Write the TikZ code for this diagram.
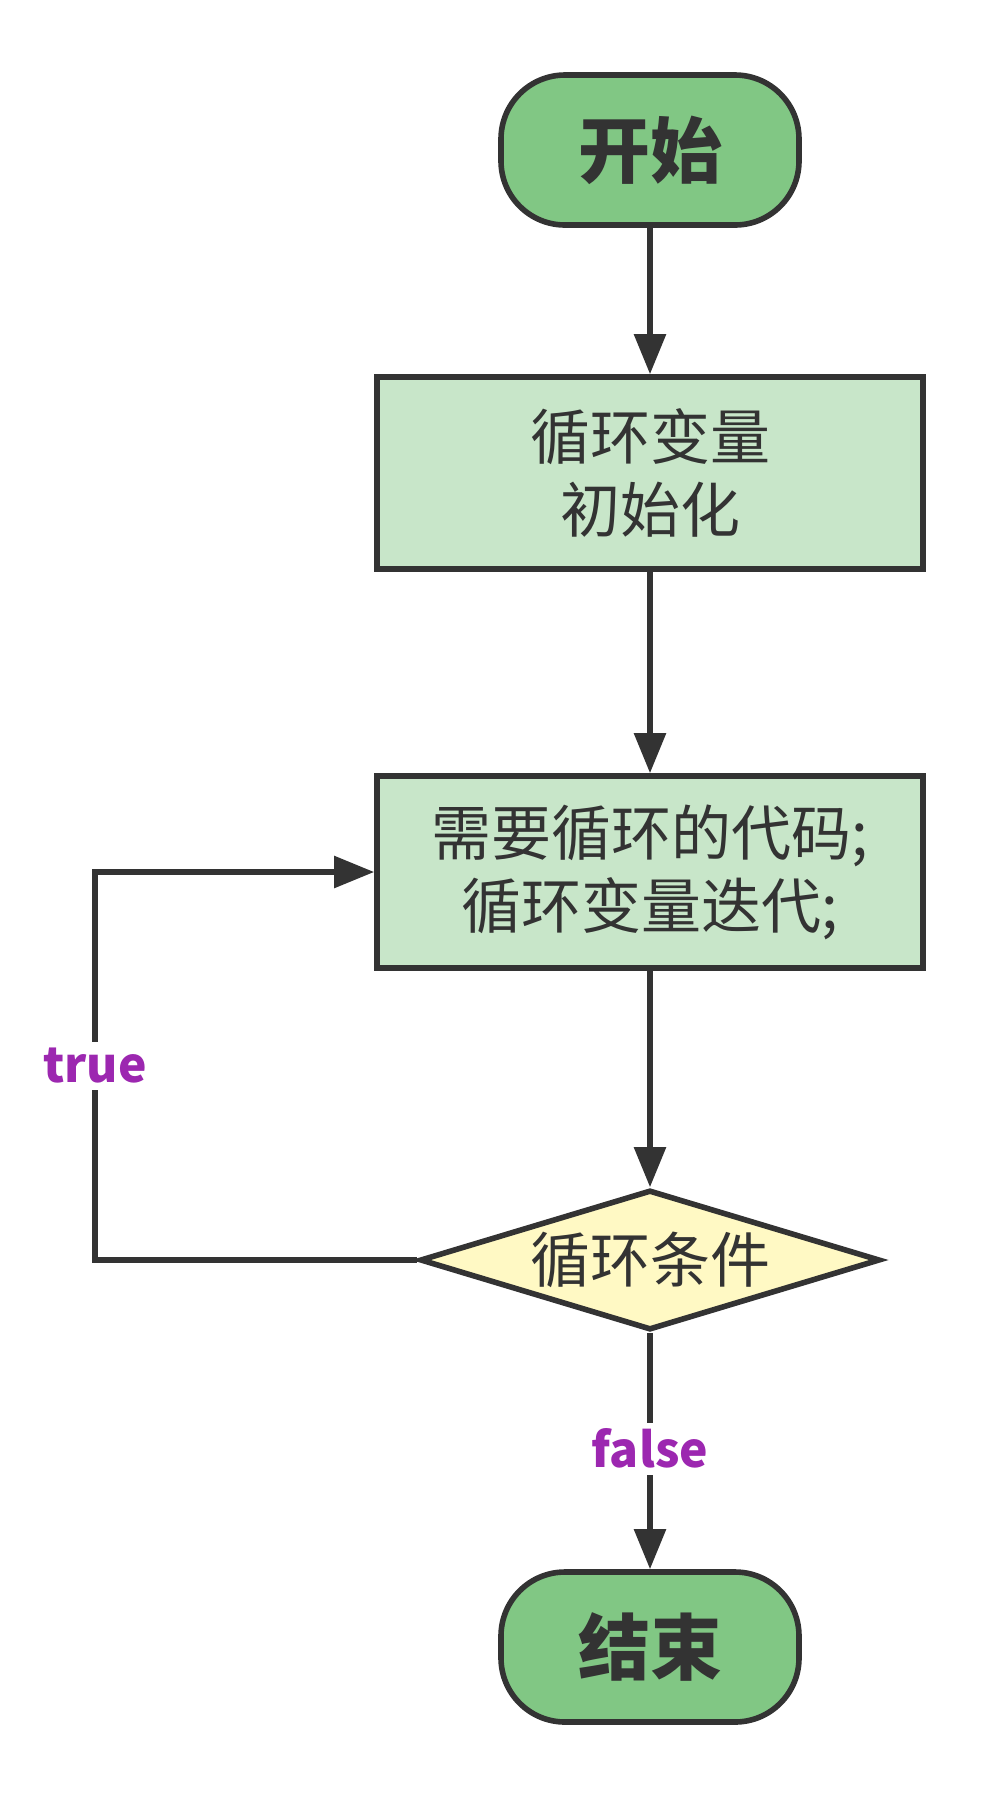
\documentclass[tikz,border=0pt]{standalone}
\usepackage{fontspec}
\setmainfont{Noto Sans CJK SC}
\usetikzlibrary{arrows.meta,shapes.geometric}
\definecolor{lineDark}{RGB}{51,51,51}
\definecolor{termGreen}{RGB}{129,199,132}
\definecolor{procGreen}{RGB}{200,230,201}
\definecolor{condYellow}{RGB}{255,249,196}
\definecolor{labelPurple}{RGB}{156,39,176}
\tikzset{
  termbox/.style={rectangle,rounded corners=32pt,draw=lineDark,fill=termGreen,line width=2.8pt,minimum width=149pt,minimum height=75pt,font=\bfseries\fontsize{36}{40}\selectfont,text=lineDark},
  procbox/.style={rectangle,draw=lineDark,fill=procGreen,line width=2.8pt,minimum width=273pt,minimum height=96pt,align=center,font=\fontsize{30}{36.5}\selectfont,text=lineDark},
  condbox/.style={diamond,aspect=3.2,draw=lineDark,fill=condYellow,line width=2.8pt,minimum width=230pt,minimum height=70pt,inner sep=0pt,font=\fontsize{30}{36}\selectfont,text=lineDark},
  flow/.style={draw=lineDark,line width=2.8pt,-{Triangle[length=20pt,width=15.5pt]}},
  flowtext/.style={fill=white,text=labelPurple,font=\bfseries\fontsize{24}{28}\selectfont,inner sep=3pt}
}
\begin{document}
\begin{tikzpicture}[x=0.5pt,y=-0.5pt]
\useasboundingbox (0,0) rectangle (999,1796);
% nodes
\node[termbox] (start) at (650,150) {开始};
\node[procbox] (init) at (650,473) {循环变量\\初始化};
\node[procbox] (body) at (650,872) {需要循环的代码;\\循环变量迭代;};
\node[condbox] (cond) at (650,1260) {循环条件};
\node[termbox] (stop) at (650,1647) {结束};
\coordinate (loop) at (95,1260);
% connectors
\draw[flow] (start) -- (init);
\draw[flow] (init) -- (body);
\draw[flow] (body) -- (cond);
\draw[flow] (cond.west) -- (loop) |- node[pos=0.25,flowtext] {true} (body.west);
\draw[flow] (cond) -- node[pos=0.49,flowtext] {false} (stop);
\end{tikzpicture}
\end{document}
